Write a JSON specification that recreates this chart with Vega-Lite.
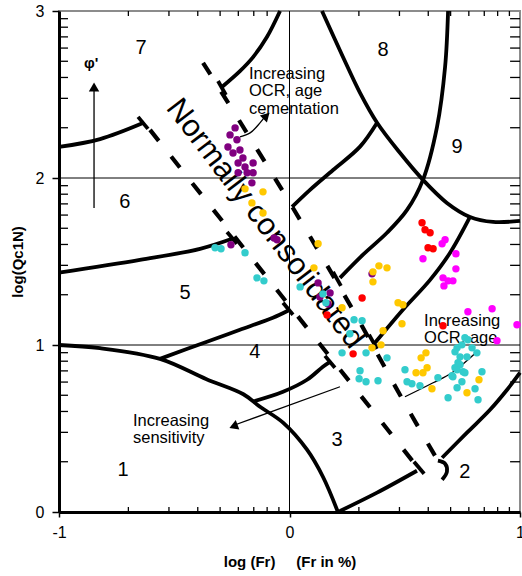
{
"$schema": "https://vega.github.io/schema/vega-lite/v6.json",
"width": 461, "height": 501,
"autosize": {"type": "none"},
"padding": {"left": 59, "top": 11, "right": 2, "bottom": 64},
"background": "white",
"config": {"view": {"stroke": "#8c8c8c", "strokeWidth": 2}, "font": "Liberation Sans"},
"datasets": {
"gv": [{"v": 0}],
"gh": [{"v": 1}, {"v": 2}],
"ytk": [{"v":0.301},{"v":0.477},{"v":0.602},{"v":0.699},{"v":0.778},{"v":0.845},{"v":0.903},{"v":0.954},{"v":1.301},{"v":1.477},{"v":1.602},{"v":1.699},{"v":1.778},{"v":1.845},{"v":1.903},{"v":1.954},{"v":2.301},{"v":2.477},{"v":2.602},{"v":2.699},{"v":2.778},{"v":2.845},{"v":2.903},{"v":2.954}],
"xtk": [{"v":-0.699},{"v":-0.523},{"v":-0.398},{"v":-0.301},{"v":-0.222},{"v":-0.155},{"v":-0.097},{"v":-0.046},{"v":0.301},{"v":0.477},{"v":0.602},{"v":0.699},{"v":0.778},{"v":0.845},{"v":0.903},{"v":0.954}],
"solid": [
{"id":"z1","o":0,"x":-1,"y":1.0},{"id":"z1","o":1,"x":-0.822,"y":0.981},{"id":"z1","o":2,"x":-0.562,"y":0.917},{"id":"z1","o":3,"x":-0.36,"y":0.795},{"id":"z1","o":4,"x":-0.2,"y":0.705},{"id":"z1","o":5,"x":-0.128,"y":0.63},{"id":"z1","o":6,"x":-0.028,"y":0.535},{"id":"z1","o":7,"x":0.076,"y":0.373},{"id":"z1","o":8,"x":0.145,"y":0.211},{"id":"z1","o":9,"x":0.21,"y":0.0},
{"id":"a34L","o":0,"x":-0.158,"y":0.662},{"id":"a34L","o":1,"x":-0.028,"y":0.72},{"id":"a34L","o":2,"x":0.076,"y":0.792},{"id":"a34L","o":3,"x":0.145,"y":0.87},{"id":"a34L","o":4,"x":0.176,"y":0.899},
{"id":"a34R","o":0,"x":0.371,"y":1.013},{"id":"a34R","o":1,"x":0.492,"y":1.211},{"id":"a34R","o":2,"x":0.61,"y":1.39},{"id":"a34R","o":3,"x":0.696,"y":1.551},{"id":"a34R","o":4,"x":0.783,"y":1.767},
{"id":"a45L","o":0,"x":-0.562,"y":0.917},{"id":"a45L","o":1,"x":-0.358,"y":1.02},{"id":"a45L","o":2,"x":-0.215,"y":1.091},{"id":"a45L","o":3,"x":-0.072,"y":1.163},{"id":"a45L","o":4,"x":-0.007,"y":1.205},
{"id":"a45R","o":0,"x":0.219,"y":1.402},{"id":"a45R","o":1,"x":0.319,"y":1.541},{"id":"a45R","o":2,"x":0.423,"y":1.672},{"id":"a45R","o":3,"x":0.51,"y":1.809},{"id":"a45R","o":4,"x":0.579,"y":1.989},{"id":"a45R","o":5,"x":0.64,"y":2.306},{"id":"a45R","o":6,"x":0.675,"y":2.665},{"id":"a45R","o":7,"x":0.688,"y":3.0},
{"id":"a56L","o":0,"x":-1,"y":1.433},{"id":"a56L","o":1,"x":-0.649,"y":1.51},{"id":"a56L","o":2,"x":-0.388,"y":1.576},{"id":"a56L","o":3,"x":-0.249,"y":1.636},
{"id":"a56R","o":0,"x":0.011,"y":1.827},{"id":"a56R","o":1,"x":0.089,"y":1.929},{"id":"a56R","o":2,"x":0.189,"y":2.048},{"id":"a56R","o":3,"x":0.306,"y":2.188},{"id":"a56R","o":4,"x":0.38,"y":2.331},
{"id":"a67L","o":0,"x":-1,"y":2.186},{"id":"a67L","o":1,"x":-0.822,"y":2.233},{"id":"a67L","o":2,"x":-0.636,"y":2.329},
{"id":"a67R","o":0,"x":-0.293,"y":2.545},{"id":"a67R","o":1,"x":-0.215,"y":2.64},{"id":"a67R","o":2,"x":-0.158,"y":2.724},{"id":"a67R","o":3,"x":-0.098,"y":2.844},{"id":"a67R","o":4,"x":-0.041,"y":3.0},
{"id":"a9","o":0,"x":0.141,"y":3.0},{"id":"a9","o":1,"x":0.232,"y":2.725},{"id":"a9","o":2,"x":0.306,"y":2.51},{"id":"a9","o":3,"x":0.38,"y":2.331},{"id":"a9","o":4,"x":0.479,"y":2.151},{"id":"a9","o":5,"x":0.579,"y":1.989},{"id":"a9","o":6,"x":0.683,"y":1.851},{"id":"a9","o":7,"x":0.783,"y":1.767},{"id":"a9","o":8,"x":0.883,"y":1.737},{"id":"a9","o":9,"x":1.0,"y":1.743},
{"id":"a23L","o":0,"x":0.21,"y":0.0},{"id":"a23L","o":1,"x":0.38,"y":0.116},{"id":"a23L","o":2,"x":0.553,"y":0.247},
{"id":"a2R","o":0,"x":0.662,"y":0.325},{"id":"a2R","o":1,"x":0.77,"y":0.475},{"id":"a2R","o":2,"x":0.87,"y":0.612},{"id":"a2R","o":3,"x":0.944,"y":0.732},{"id":"a2R","o":4,"x":1.0,"y":0.834},
{"id":"t67L","o":0,"x":-0.657,"y":2.366},{"id":"t67L","o":1,"x":-0.614,"y":2.294},
{"id":"t56L","o":0,"x":-0.271,"y":1.677},{"id":"t56L","o":1,"x":-0.228,"y":1.606},
{"id":"t45L","o":0,"x":-0.028,"y":1.253},{"id":"t45L","o":1,"x":0.015,"y":1.181},
{"id":"t34L","o":0,"x":0.154,"y":0.935},{"id":"t34L","o":1,"x":0.197,"y":0.864},
{"id":"t23L","o":0,"x":0.54,"y":0.301},{"id":"t23L","o":1,"x":0.584,"y":0.229},
{"id":"t67R","o":0,"x":-0.31,"y":2.581},{"id":"t67R","o":1,"x":-0.276,"y":2.497},
{"id":"t45R","o":0,"x":0.189,"y":1.438},{"id":"t45R","o":1,"x":0.223,"y":1.354},
{"id":"t34R","o":0,"x":0.345,"y":1.061},{"id":"t34R","o":1,"x":0.38,"y":0.977},
{"id":"j","o":0,"x":0.644,"y":0.307},{"id":"j","o":1,"x":0.675,"y":0.289},{"id":"j","o":2,"x":0.683,"y":0.241},{"id":"j","o":3,"x":0.662,"y":0.193}
],
"dashed": [
{"id":"lo","o":0,"x":-0.605,"y":2.288},{"id":"lo","o":1,"x":0.553,"y":0.272},
{"id":"up","o":0,"x":-0.375,"y":2.69},{"id":"up","o":1,"x":-0.033,"y":1.93},{"id":"up","o":2,"x":0.275,"y":1.21},{"id":"up","o":3,"x":0.492,"y":0.67},{"id":"up","o":4,"x":0.644,"y":0.307}
],
"thin": [
{"id":"sens","o":0,"x":-0.25,"y":0.515},{"id":"sens","o":1,"x":0.219,"y":0.75},
{"id":"ocr","o":0,"x":0.501,"y":0.69},{"id":"ocr","o":1,"x":0.623,"y":0.774},{"id":"ocr","o":2,"x":0.705,"y":0.834},{"id":"ocr","o":3,"x":0.813,"y":0.959},
{"id":"cem","o":0,"x":-0.215,"y":2.246},{"id":"cem","o":1,"x":-0.171,"y":2.27},{"id":"cem","o":2,"x":-0.128,"y":2.33},{"id":"cem","o":3,"x":-0.105,"y":2.37},
{"id":"phi","o":0,"x":-0.848,"y":1.821},{"id":"phi","o":1,"x":-0.848,"y":2.53}
],
"heads": [
{"id":"phi","x":-0.848,"y":2.545},
{"id":"cem","x":-0.1,"y":2.372},
{"id":"sens","x":-0.243,"y":0.513}
],
"zones": [
{"t":"1","x":-0.722,"y":0.253},{"t":"2","x":0.761,"y":0.24},{"t":"3","x":0.206,"y":0.43},{"t":"4","x":-0.15,"y":0.96},{"t":"5","x":-0.453,"y":1.31},{"t":"6","x":-0.714,"y":1.857},{"t":"7","x":-0.644,"y":2.777},{"t":"8","x":0.406,"y":2.767},{"t":"9","x":0.727,"y":2.186}
],
"notes": [
{"t":"Increasing","x":-0.176,"y":2.62},{"t":"OCR, age","x":-0.176,"y":2.518},{"t":"cementation","x":-0.176,"y":2.416},
{"t":"Increasing","x":-0.679,"y":0.545},{"t":"sensitivity","x":-0.679,"y":0.443},
{"t":"Increasing","x":0.584,"y":1.145},{"t":"OCR, age","x":0.584,"y":1.043}
],
"nc": [{"t":"Normally consolidated","x":-0.106,"y":1.725}],
"phil": [{"t":"φ'","x":-0.861,"y":2.69}],
"pts": [
{"s":"A","x":-0.236,"y":2.3},{"s":"A","x":-0.258,"y":2.258},{"s":"A","x":-0.267,"y":2.186},{"s":"A","x":-0.228,"y":2.229},{"s":"A","x":-0.215,"y":2.168},{"s":"A","x":-0.245,"y":2.15},{"s":"A","x":-0.202,"y":2.12},{"s":"A","x":-0.223,"y":2.09},{"s":"A","x":-0.193,"y":2.066},{"s":"A","x":-0.158,"y":2.09},{"s":"A","x":-0.223,"y":2.031},{"s":"A","x":-0.184,"y":2.031},{"s":"A","x":-0.158,"y":2.031},{"s":"A","x":-0.163,"y":1.971},{"s":"A","x":-0.254,"y":1.6},{"s":"A","x":-0.067,"y":1.641},{"s":"A","x":-0.054,"y":1.63},{"s":"A","x":0.124,"y":1.372},{"s":"A","x":0.176,"y":1.312},{"s":"A","x":0.132,"y":1.288},{"s":"A","x":0.167,"y":1.246},{"s":"A","x":0.358,"y":1.426},
{"s":"B","x":-0.193,"y":1.935},{"s":"B","x":-0.115,"y":1.917},{"s":"B","x":-0.163,"y":1.851},{"s":"B","x":-0.115,"y":1.791},{"s":"B","x":0.124,"y":1.606},{"s":"B","x":0.106,"y":1.462},{"s":"B","x":0.228,"y":1.223},{"s":"B","x":0.362,"y":1.438},{"s":"B","x":0.388,"y":1.474},{"s":"B","x":0.423,"y":1.462},{"s":"B","x":0.362,"y":1.378},{"s":"B","x":0.471,"y":1.253},{"s":"B","x":0.492,"y":1.241},{"s":"B","x":0.488,"y":1.127},{"s":"B","x":0.406,"y":1.085},{"s":"B","x":0.358,"y":0.983},{"s":"B","x":0.397,"y":1.001},{"s":"B","x":0.571,"y":0.923},{"s":"B","x":0.592,"y":0.953},{"s":"B","x":0.597,"y":0.864},{"s":"B","x":0.549,"y":0.834},{"s":"B","x":0.579,"y":0.834},{"s":"B","x":0.618,"y":0.738},{"s":"B","x":0.77,"y":0.714},{"s":"B","x":0.822,"y":0.792},
{"s":"D","x":0.575,"y":1.732},{"s":"D","x":0.588,"y":1.69},{"s":"D","x":0.61,"y":1.672},{"s":"D","x":0.601,"y":1.582},{"s":"D","x":0.623,"y":1.576},{"s":"D","x":0.315,"y":1.281},{"s":"D","x":0.163,"y":1.18},{"s":"D","x":0.276,"y":0.947},{"s":"D","x":0.666,"y":1.115},
{"s":"E","x":0.675,"y":1.63},{"s":"E","x":0.662,"y":1.606},{"s":"E","x":0.722,"y":1.546},{"s":"E","x":0.579,"y":1.516},{"s":"E","x":0.722,"y":1.456},{"s":"E","x":0.666,"y":1.402},{"s":"E","x":0.688,"y":1.384},{"s":"E","x":0.709,"y":1.384},{"s":"E","x":0.67,"y":1.354},{"s":"E","x":0.774,"y":1.199},{"s":"E","x":0.879,"y":1.217},{"s":"E","x":0.987,"y":1.121},{"s":"E","x":0.9,"y":1.025},
{"s":"C","x":-0.323,"y":1.582},{"s":"C","x":-0.297,"y":1.576},{"s":"C","x":-0.193,"y":1.552},{"s":"C","x":-0.141,"y":1.402},{"s":"C","x":-0.111,"y":1.384},{"s":"C","x":0.046,"y":1.348},{"s":"C","x":0.145,"y":1.306},{"s":"C","x":0.158,"y":1.253},{"s":"C","x":0.28,"y":1.151},{"s":"C","x":0.315,"y":1.145},{"s":"C","x":0.262,"y":1.067},{"s":"C","x":0.228,"y":0.953},{"s":"C","x":0.332,"y":0.953},{"s":"C","x":0.423,"y":0.923},{"s":"C","x":0.306,"y":0.846},{"s":"C","x":0.302,"y":0.798},{"s":"C","x":0.332,"y":0.78},{"s":"C","x":0.384,"y":0.786},{"s":"C","x":0.501,"y":0.852},{"s":"C","x":0.51,"y":0.78},{"s":"C","x":0.531,"y":0.768},{"s":"C","x":0.566,"y":0.756},{"s":"C","x":0.644,"y":0.804},{"s":"C","x":0.705,"y":0.816},{"s":"C","x":0.753,"y":0.84},{"s":"C","x":0.835,"y":0.84},{"s":"C","x":0.727,"y":0.744},{"s":"C","x":0.748,"y":0.78},{"s":"C","x":0.805,"y":0.738},{"s":"C","x":0.688,"y":0.684},{"s":"C","x":0.818,"y":0.672},{"s":"C","x":0.727,"y":0.983},{"s":"C","x":0.748,"y":1.001},{"s":"C","x":0.774,"y":1.031},{"s":"C","x":0.792,"y":0.983},{"s":"C","x":0.813,"y":0.953},{"s":"C","x":0.718,"y":0.959},{"s":"C","x":0.74,"y":0.929},{"s":"C","x":0.77,"y":0.929},{"s":"C","x":0.731,"y":0.894},{"s":"C","x":0.74,"y":0.882},{"s":"C","x":0.718,"y":0.864},{"s":"C","x":0.727,"y":0.852},{"s":"C","x":0.761,"y":0.834},{"s":"C","x":0.761,"y":1.043},{"s":"C","x":0.709,"y":0.81}
]
},
"layer": [
{"data": {"name": "gv"}, "mark": {"type": "rule", "color": "black", "strokeWidth": 1},
 "encoding": {"x": {"field": "v", "type": "quantitative", "scale": {"domain": [-1, 1], "nice": false, "zero": false},
   "axis": {"values": [-1, 0, 1], "labelExpr": "'' + datum.value", "title": "log (Fr)\u00a0\u00a0\u00a0\u00a0\u00a0(Fr in %)", "titleFontWeight": "bold", "titleFontSize": 15, "titleColor": "black", "titlePadding": 14, "labelFontSize": 16, "labelColor": "black", "labelPadding": 7, "labelFlush": false, "labelOverlap": false, "tickSize": 5, "tickColor": "black", "tickWidth": 1.5, "domainColor": "black", "domainWidth": 3, "grid": false, "zindex": 1}}}},
{"data": {"name": "gh"}, "mark": {"type": "rule", "color": "black", "strokeWidth": 1},
 "encoding": {"y": {"field": "v", "type": "quantitative", "scale": {"domain": [0, 3], "nice": false, "zero": false},
   "axis": {"values": [0, 1, 2, 3], "labelExpr": "'' + datum.value", "title": "log(Qc1N)", "titleFontWeight": "bold", "titleFontSize": 15, "titleColor": "black", "titlePadding": 10, "labelFontSize": 16, "labelColor": "black", "labelPadding": 8, "labelFlush": false, "labelOverlap": false, "tickSize": 7, "tickColor": "black", "tickWidth": 1.5, "domainColor": "black", "domainWidth": 3, "grid": false, "zindex": 1}}}},
{"data": {"name": "ytk"}, "mark": {"type": "rule", "color": "black", "strokeWidth": 1.3},
 "encoding": {"y": {"field": "v", "type": "quantitative"}, "x": {"datum": -1, "type": "quantitative"}, "x2": {"datum": -0.961}}},
{"data": {"name": "ytk"}, "mark": {"type": "rule", "color": "black", "strokeWidth": 1.3},
 "encoding": {"y": {"field": "v", "type": "quantitative"}, "x": {"datum": 1, "type": "quantitative"}, "x2": {"datum": 0.957}}},
{"data": {"name": "xtk"}, "mark": {"type": "rule", "color": "black", "strokeWidth": 1.3},
 "encoding": {"x": {"field": "v", "type": "quantitative"}, "y": {"datum": 0, "type": "quantitative"}, "y2": {"datum": 0.03}}},
{"data": {"name": "xtk"}, "mark": {"type": "rule", "color": "black", "strokeWidth": 1.3},
 "encoding": {"x": {"field": "v", "type": "quantitative"}, "y": {"datum": 3, "type": "quantitative"}, "y2": {"datum": 2.97}}},
{"data": {"name": "solid"}, "mark": {"type": "line", "color": "black", "strokeWidth": 3.8, "interpolate": "catmull-rom"},
 "encoding": {"x": {"field": "x", "type": "quantitative"}, "y": {"field": "y", "type": "quantitative"}, "detail": {"field": "id"}, "order": {"field": "o"}}},
{"data": {"name": "dashed"}, "mark": {"type": "line", "color": "black", "strokeWidth": 4.2, "strokeDash": [14, 20], "interpolate": "catmull-rom"},
 "encoding": {"x": {"field": "x", "type": "quantitative"}, "y": {"field": "y", "type": "quantitative"}, "detail": {"field": "id"}, "order": {"field": "o"}}},
{"data": {"name": "thin"}, "mark": {"type": "line", "color": "black", "strokeWidth": 1.3, "interpolate": "catmull-rom"},
 "encoding": {"x": {"field": "x", "type": "quantitative"}, "y": {"field": "y", "type": "quantitative"}, "detail": {"field": "id"}, "order": {"field": "o"}}},
{"data": {"name": "heads"}, "transform": [{"filter": "datum.id == 'phi'"}], "mark": {"type": "point", "shape": "triangle-up", "filled": true, "color": "black", "opacity": 1, "size": 110, "angle": 0},
 "encoding": {"x": {"field": "x", "type": "quantitative"}, "y": {"field": "y", "type": "quantitative"}}},
{"data": {"name": "heads"}, "transform": [{"filter": "datum.id == 'cem'"}], "mark": {"type": "point", "shape": "triangle-up", "filled": true, "color": "black", "opacity": 1, "size": 100, "angle": 45},
 "encoding": {"x": {"field": "x", "type": "quantitative"}, "y": {"field": "y", "type": "quantitative"}}},
{"data": {"name": "heads"}, "transform": [{"filter": "datum.id == 'sens'"}], "mark": {"type": "point", "shape": "triangle-up", "filled": true, "color": "black", "opacity": 1, "size": 100, "angle": 249},
 "encoding": {"x": {"field": "x", "type": "quantitative"}, "y": {"field": "y", "type": "quantitative"}}},
{"data": {"name": "zones"}, "mark": {"type": "text", "fontSize": 20, "color": "black", "align": "center", "baseline": "middle"},
 "encoding": {"x": {"field": "x", "type": "quantitative"}, "y": {"field": "y", "type": "quantitative"}, "text": {"field": "t"}}},
{"data": {"name": "notes"}, "mark": {"type": "text", "fontSize": 16.5, "color": "black", "align": "left", "baseline": "middle"},
 "encoding": {"x": {"field": "x", "type": "quantitative"}, "y": {"field": "y", "type": "quantitative"}, "text": {"field": "t"}}},
{"data": {"name": "nc"}, "mark": {"type": "text", "fontSize": 31, "color": "black", "align": "center", "baseline": "middle", "angle": 52.6},
 "encoding": {"x": {"field": "x", "type": "quantitative"}, "y": {"field": "y", "type": "quantitative"}, "text": {"field": "t"}}},
{"data": {"name": "phil"}, "mark": {"type": "text", "fontSize": 15, "fontWeight": "bold", "color": "black", "align": "center", "baseline": "middle"},
 "encoding": {"x": {"field": "x", "type": "quantitative"}, "y": {"field": "y", "type": "quantitative"}, "text": {"field": "t"}}},
{"data": {"name": "pts"}, "mark": {"type": "circle", "size": 55, "opacity": 1},
 "encoding": {"x": {"field": "x", "type": "quantitative"}, "y": {"field": "y", "type": "quantitative"},
  "color": {"field": "s", "type": "nominal", "scale": {"domain": ["A", "B", "C", "D", "E"], "range": ["#800080", "#FFC800", "#33CCCC", "#FF0000", "#FF00FF"]}, "legend": null}}}
]
}
